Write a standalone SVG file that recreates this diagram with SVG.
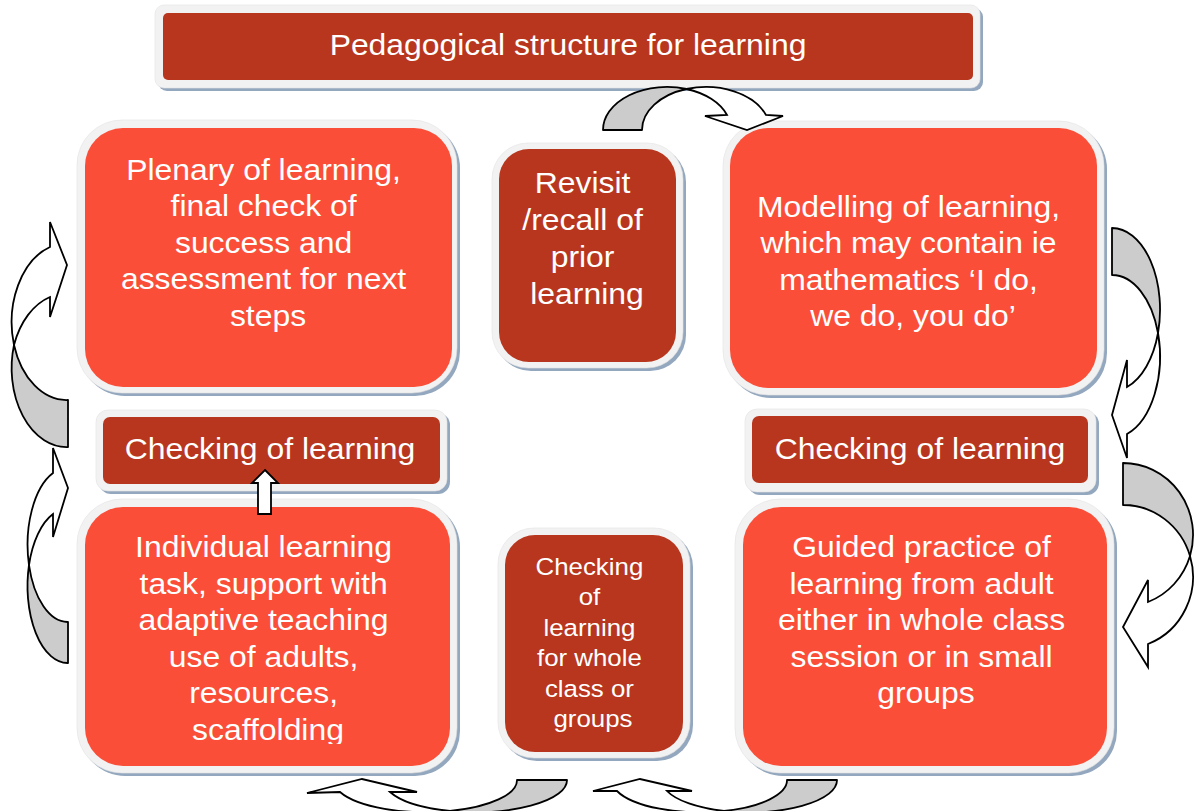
<svg xmlns="http://www.w3.org/2000/svg" width="1196" height="811" viewBox="0 0 1196 811">
  <style>
    .shadow { fill: #93A7BE; }
    .frame { fill: #F2F2F2; stroke: #E2E2E2; stroke-width: 0.6; }
    .bright { fill: #FA4E38; }
    .dark { fill: #B8361E; }
    .t { font-family: "Liberation Sans", Arial, sans-serif; font-size: 29px; fill: #FFFFFF; text-anchor: middle; }
    .ts { font-family: "Liberation Sans", Arial, sans-serif; font-size: 23.5px; fill: #FFFFFF; text-anchor: middle; }
    .back { fill: #CCCCCC; stroke: #000000; stroke-width: 1.8; stroke-linejoin: round; }
    .front { fill: #FFFFFF; stroke: #000000; stroke-width: 1.8; stroke-linejoin: miter; }
  </style>
  <defs>
    <clipPath id="clipIndividual">
      <rect x="85" y="507" width="365" height="237"/>
    </clipPath>
  </defs>

  <rect width="1196" height="811" fill="#FFFFFF"/>

  <!-- Title bar -->
  <g id="title">
    <rect class="shadow" x="158" y="8" width="825" height="83" rx="9"/>
    <rect class="frame" x="155" y="5" width="825" height="83" rx="9"/>
    <rect class="dark" x="163" y="13" width="810" height="67" rx="5"/>
    <text class="t" transform="translate(568 0) scale(1.1 1)" x="0" y="55">Pedagogical structure for learning</text>
  </g>

  <!-- Plenary -->
  <g id="plenary">
    <rect class="shadow" x="80" y="123" width="380" height="273" rx="45"/>
    <rect class="frame" x="77" y="120" width="380" height="273" rx="45"/>
    <rect class="bright" x="85" y="128" width="367" height="259" rx="38"/>
    <text class="t" transform="translate(268 0) scale(1.1 1)">
      <tspan x="0" y="180">Plenary of learning,</tspan>
      <tspan x="0" y="216.5">final check of</tspan>
      <tspan x="0" y="253">success and</tspan>
      <tspan x="0" y="289.5">assessment for next</tspan>
      <tspan x="0" y="326">steps</tspan>
    </text>
  </g>

  <!-- Revisit -->
  <g id="revisit">
    <rect class="shadow" x="495" y="146" width="191" height="225" rx="36"/>
    <rect class="frame" x="492" y="143" width="191" height="225" rx="36"/>
    <rect class="dark" x="499" y="149" width="177" height="213" rx="30"/>
    <text class="t" transform="translate(587 0) scale(1.1 1)">
      <tspan x="0" y="193">Revisit</tspan>
      <tspan x="0" y="230">/recall of</tspan>
      <tspan x="0" y="267">prior</tspan>
      <tspan x="0" y="304">learning</tspan>
    </text>
  </g>

  <!-- Modelling -->
  <g id="modelling">
    <rect class="shadow" x="726" y="124" width="381" height="274" rx="45"/>
    <rect class="frame" x="723" y="121" width="381" height="274" rx="45"/>
    <rect class="bright" x="730" y="128" width="367" height="260" rx="38"/>
    <text class="t" transform="translate(913 0) scale(1.1 1)">
      <tspan x="0" y="217">Modelling of learning,</tspan>
      <tspan x="0" y="253.5">which may contain ie</tspan>
      <tspan x="0" y="290">mathematics ‘I do,</tspan>
      <tspan x="0" y="326.5">we do, you do’</tspan>
    </text>
  </g>

  <!-- Checking (left) -->
  <g id="check-left">
    <rect class="shadow" x="99" y="413" width="351" height="81" rx="12"/>
    <rect class="frame" x="96" y="410" width="351" height="81" rx="12"/>
    <rect class="dark" x="103" y="417" width="337" height="67" rx="7"/>
    <text class="t" transform="translate(270 0) scale(1.1 1)" x="0" y="459">Checking of learning</text>
  </g>

  <!-- Checking (right) -->
  <g id="check-right">
    <rect class="shadow" x="748" y="412" width="351" height="83" rx="12"/>
    <rect class="frame" x="745" y="409" width="351" height="83" rx="12"/>
    <rect class="dark" x="752" y="416" width="336" height="67" rx="7"/>
    <text class="t" transform="translate(920 0) scale(1.1 1)" x="0" y="459">Checking of learning</text>
  </g>

  <!-- Individual learning task -->
  <g id="individual">
    <rect class="shadow" x="80" y="502" width="380" height="274" rx="45"/>
    <rect class="frame" x="77" y="499" width="380" height="274" rx="45"/>
    <rect class="bright" x="85" y="507" width="365" height="259" rx="38"/>
    <g clip-path="url(#clipIndividual)">
      <text class="t" transform="translate(268 0) scale(1.1 1)">
        <tspan x="0" y="557">Individual learning</tspan>
        <tspan x="0" y="594">task, support with</tspan>
        <tspan x="0" y="630.5">adaptive teaching</tspan>
        <tspan x="0" y="667">use of adults,</tspan>
        <tspan x="0" y="703.5">resources,</tspan>
        <tspan x="0" y="740">scaffolding</tspan>
      </text>
    </g>
  </g>

  <!-- Checking for whole class or groups -->
  <g id="check-middle">
    <rect class="shadow" x="501" y="531" width="192" height="230" rx="36"/>
    <rect class="frame" x="498" y="528" width="192" height="230" rx="36"/>
    <rect class="dark" x="505" y="535" width="178" height="217" rx="30"/>
    <text class="ts" transform="translate(593 0) scale(1.1 1)">
      <tspan x="0" y="575">Checking</tspan>
      <tspan x="0" y="605.5">of</tspan>
      <tspan x="0" y="636">learning</tspan>
      <tspan x="0" y="666.5">for whole</tspan>
      <tspan x="0" y="697">class or</tspan>
      <tspan x="0" y="727.5">groups</tspan>
    </text>
  </g>

  <!-- Guided practice -->
  <g id="guided">
    <rect class="shadow" x="738" y="502" width="379" height="274" rx="45"/>
    <rect class="frame" x="735" y="499" width="379" height="274" rx="45"/>
    <rect class="bright" x="743" y="507" width="364" height="259" rx="38"/>
    <text class="t" transform="translate(926 0) scale(1.1 1)">
      <tspan x="0" y="557">Guided practice of</tspan>
      <tspan x="0" y="594">learning from adult</tspan>
      <tspan x="0" y="630">either in whole class</tspan>
      <tspan x="0" y="667">session or in small</tspan>
      <tspan x="0" y="703">groups</tspan>
    </text>
  </g>

  <!-- Connectors: curved ribbon arrows and the small block arrow -->
  <g id="connectors">
    <!-- top: revisit to modelling -->
    <path class="back" d="M603,130 A64,43 0 0 1 686.5,89 A64,43 0 0 0 642,130 Z"/>
    <path class="front" d="M686.5,89 A64,43 0 0 1 766,115 L783,116 L747,130 L705,116 L727,115 A64,43 0 0 0 686.5,89 Z"/>

    <!-- right, upper: modelling to checking -->
    <path class="back" d="M1112,228 A48,81.5 0 0 1 1158,333 A48,81.5 0 0 0 1112,275 Z"/>
    <path class="front" d="M1158,333 A48,81.5 0 0 1 1127,434 L1127,458 L1112,415 L1127,360 L1127,387 A48,81.5 0 0 0 1158,333 Z"/>

    <!-- right, lower: checking to guided practice -->
    <path class="back" d="M1123,463 A70,72 0 0 1 1190,556 A70,72 0 0 0 1123,505 Z"/>
    <path class="front" d="M1190,556 A70,72 0 0 1 1148,644 L1148,667 L1123,627 L1148,580 L1148,602 A70,72 0 0 0 1190,556 Z"/>

    <!-- bottom, right: guided practice to whole-class check -->
    <path class="back" d="M787,780 A88,32 0 0 1 724,811 A88,32 0 0 0 837,780 Z"/>
    <path class="front" d="M724,811 A88,32 0 0 1 617,791 L593,791 L640,779 L692,791 L667,791 A88,32 0 0 0 724,811 Z"/>

    <!-- bottom, left: whole-class check to individual task -->
    <path class="back" d="M517,780 A92,32 0 0 1 450,811 A92,32 0 0 0 567,780 Z"/>
    <path class="front" d="M450,811 A92,32 0 0 1 340,792 L307,793 L362,779 L417,792 L390,792 A92,32 0 0 0 450,811 Z"/>

    <!-- left, lower -->
    <path class="back" d="M68,663 A40,77 0 0 1 29,565 A40,77 0 0 0 68,622 Z"/>
    <path class="front" d="M29,565 A40,77 0 0 1 53,473 L53,448 L68,488 L53,537 L53,514 A40,77 0 0 0 29,565 Z"/>

    <!-- left, upper -->
    <path class="back" d="M68,447 A55,79 0 0 1 14,345 A55,79 0 0 0 68,400 Z"/>
    <path class="front" d="M14,345 A55,79 0 0 1 50,247 L50,222 L67,265 L50,317 L50,297 A55,79 0 0 0 14,345 Z"/>

    <!-- individual task up to checking -->
    <polygon class="front" points="265,470 278,483 271,483 271,514 258,514 258,483 252,483"/>
  </g>
</svg>
